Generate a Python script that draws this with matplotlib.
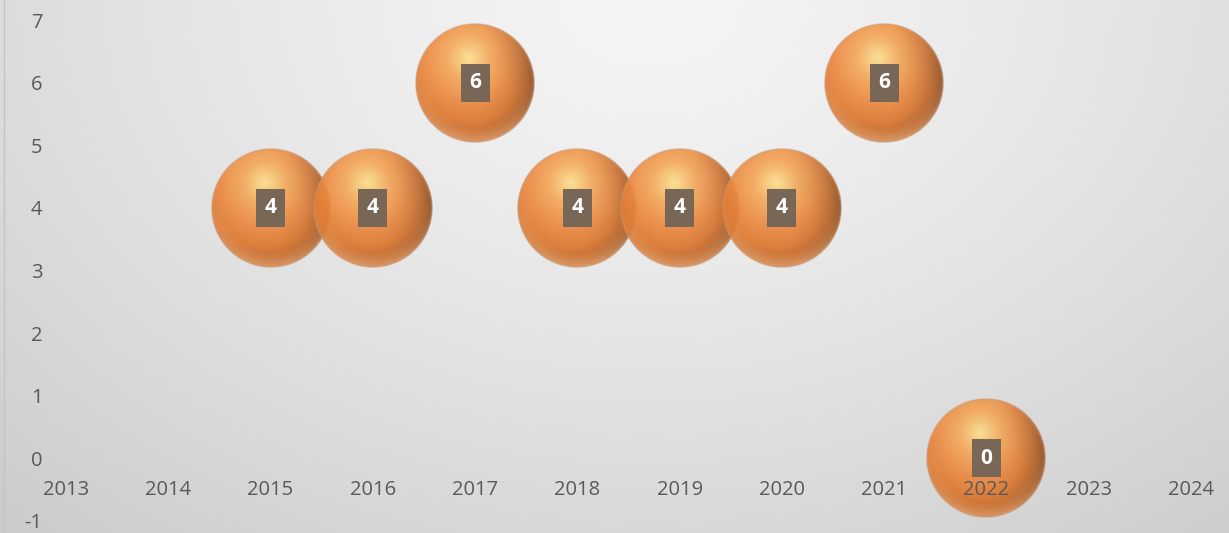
import matplotlib
matplotlib.use('Agg')
import matplotlib.pyplot as plt
import matplotlib.colors as mcolors
from matplotlib.patches import Rectangle
import numpy as np

# data
years = [2015, 2016, 2017, 2018, 2019, 2020, 2021, 2022]
values = [4, 4, 6, 4, 4, 4, 6, 0]
x_ticks = list(range(2013, 2025))
y_ticks = list(range(-1, 8))

W, H = 1229, 533
plt.rcParams['font.family'] = ['Open Sans', 'DejaVu Sans']
plt.rcParams['axes.unicode_minus'] = False

fig = plt.figure(figsize=(W / 100, H / 100), dpi=100)

# background: soft radial gradient, light near the top centre
bg = fig.add_axes([0, 0, 1, 1])
py, px = np.mgrid[0:H, 0:W]
d = np.sqrt(((px - 650) / 750.0) ** 2 + ((py - 0) / 550.0) ** 2)
v = (245 - 30 * d ** 1.3) / 255.0
bg.imshow(np.dstack([v, v, v]), extent=[0, W, H, 0], aspect='auto')
bg.plot([4, 4], [0, H], color='#c4c4c4', lw=1)
bg.set_xlim(0, W)
bg.set_ylim(H, 0)
bg.axis('off')


def sphere(n=240):
    yy, xx = np.mgrid[-1:1:n * 1j, -1:1:n * 1j]
    r = np.sqrt(xx ** 2 + yy ** 2)
    dh = np.sqrt((xx + 0.1) ** 2 + (yy + 0.42) ** 2)
    stops = [0.0, 0.36, 0.72, 1.05, 1.5]
    cols = [mcolors.to_rgb(c) for c in ['#fbe08e', '#f4a85a', '#ec8a42', '#dd772f', '#a85420']]
    img = np.zeros((n, n, 4))
    for k in range(3):
        img[..., k] = np.interp(dh, stops, [c[k] for c in cols])
    # darker on the right side
    dark = 1 - 0.35 * np.clip(xx, 0, 1) ** 2 * np.clip(r, 0, 1)
    img[..., :3] *= dark[..., None]
    # light reflection along the lower rim
    rim = np.clip((r - 0.75) / 0.22, 0, 1) * np.clip(yy + 0.1, 0, 1) ** 1.2 * 0.55
    rim_c = np.array(mcolors.to_rgb('#f6b57a'))
    img[..., :3] = img[..., :3] * (1 - rim[..., None]) + rim_c * rim[..., None]
    # thin greyish outline
    edge = np.clip((r - 0.955) / 0.04, 0, 1) * 0.6
    edge_c = np.array(mcolors.to_rgb('#c39a80'))
    img[..., :3] = img[..., :3] * (1 - edge[..., None]) + edge_c * edge[..., None]
    img[..., 3] = 0.92 * np.clip((1 - r) * n / 2, 0, 1)
    return np.clip(img, 0, 1)


ax = fig.add_axes([66 / W, 12 / H, (1191 - 66) / W, 501 / H])
ax.set_facecolor('none')

ux = 11 / (1191 - 66)   # data units per pixel
uy = 8 / 501.0
R = 60                  # bubble radius, px
ball = sphere()
for x, y in zip(years, values):
    ax.imshow(ball, extent=[x - R * ux, x + R * ux, y - R * uy, y + R * uy],
              aspect='auto', interpolation='bilinear', zorder=1)
    ax.add_patch(Rectangle((x - 14.5 * ux, y - 19 * uy), 29 * ux, 38 * uy,
                           facecolor='#786656', edgecolor='none', zorder=4))
    ax.text(x, y, str(y), ha='center', va='center', color='white',
            fontsize=15, fontweight='bold', zorder=5)

ax.set_xlim(2013, 2024)
ax.set_ylim(-1, 7)
ax.set_xticks(x_ticks)
ax.set_yticks(y_ticks)
ax.spines['bottom'].set_position(('data', 0))
for s in ax.spines.values():
    s.set_visible(False)
ax.set_axisbelow(False)
ax.tick_params(axis='x', length=0, pad=15.5, labelsize=14.5, labelcolor='#595959')
ax.tick_params(axis='y', length=0, pad=17, labelsize=14.5, labelcolor='#595959')
for lbl in ax.get_xticklabels():
    lbl.set_zorder(3)

fig.savefig('out.png', dpi=100)
